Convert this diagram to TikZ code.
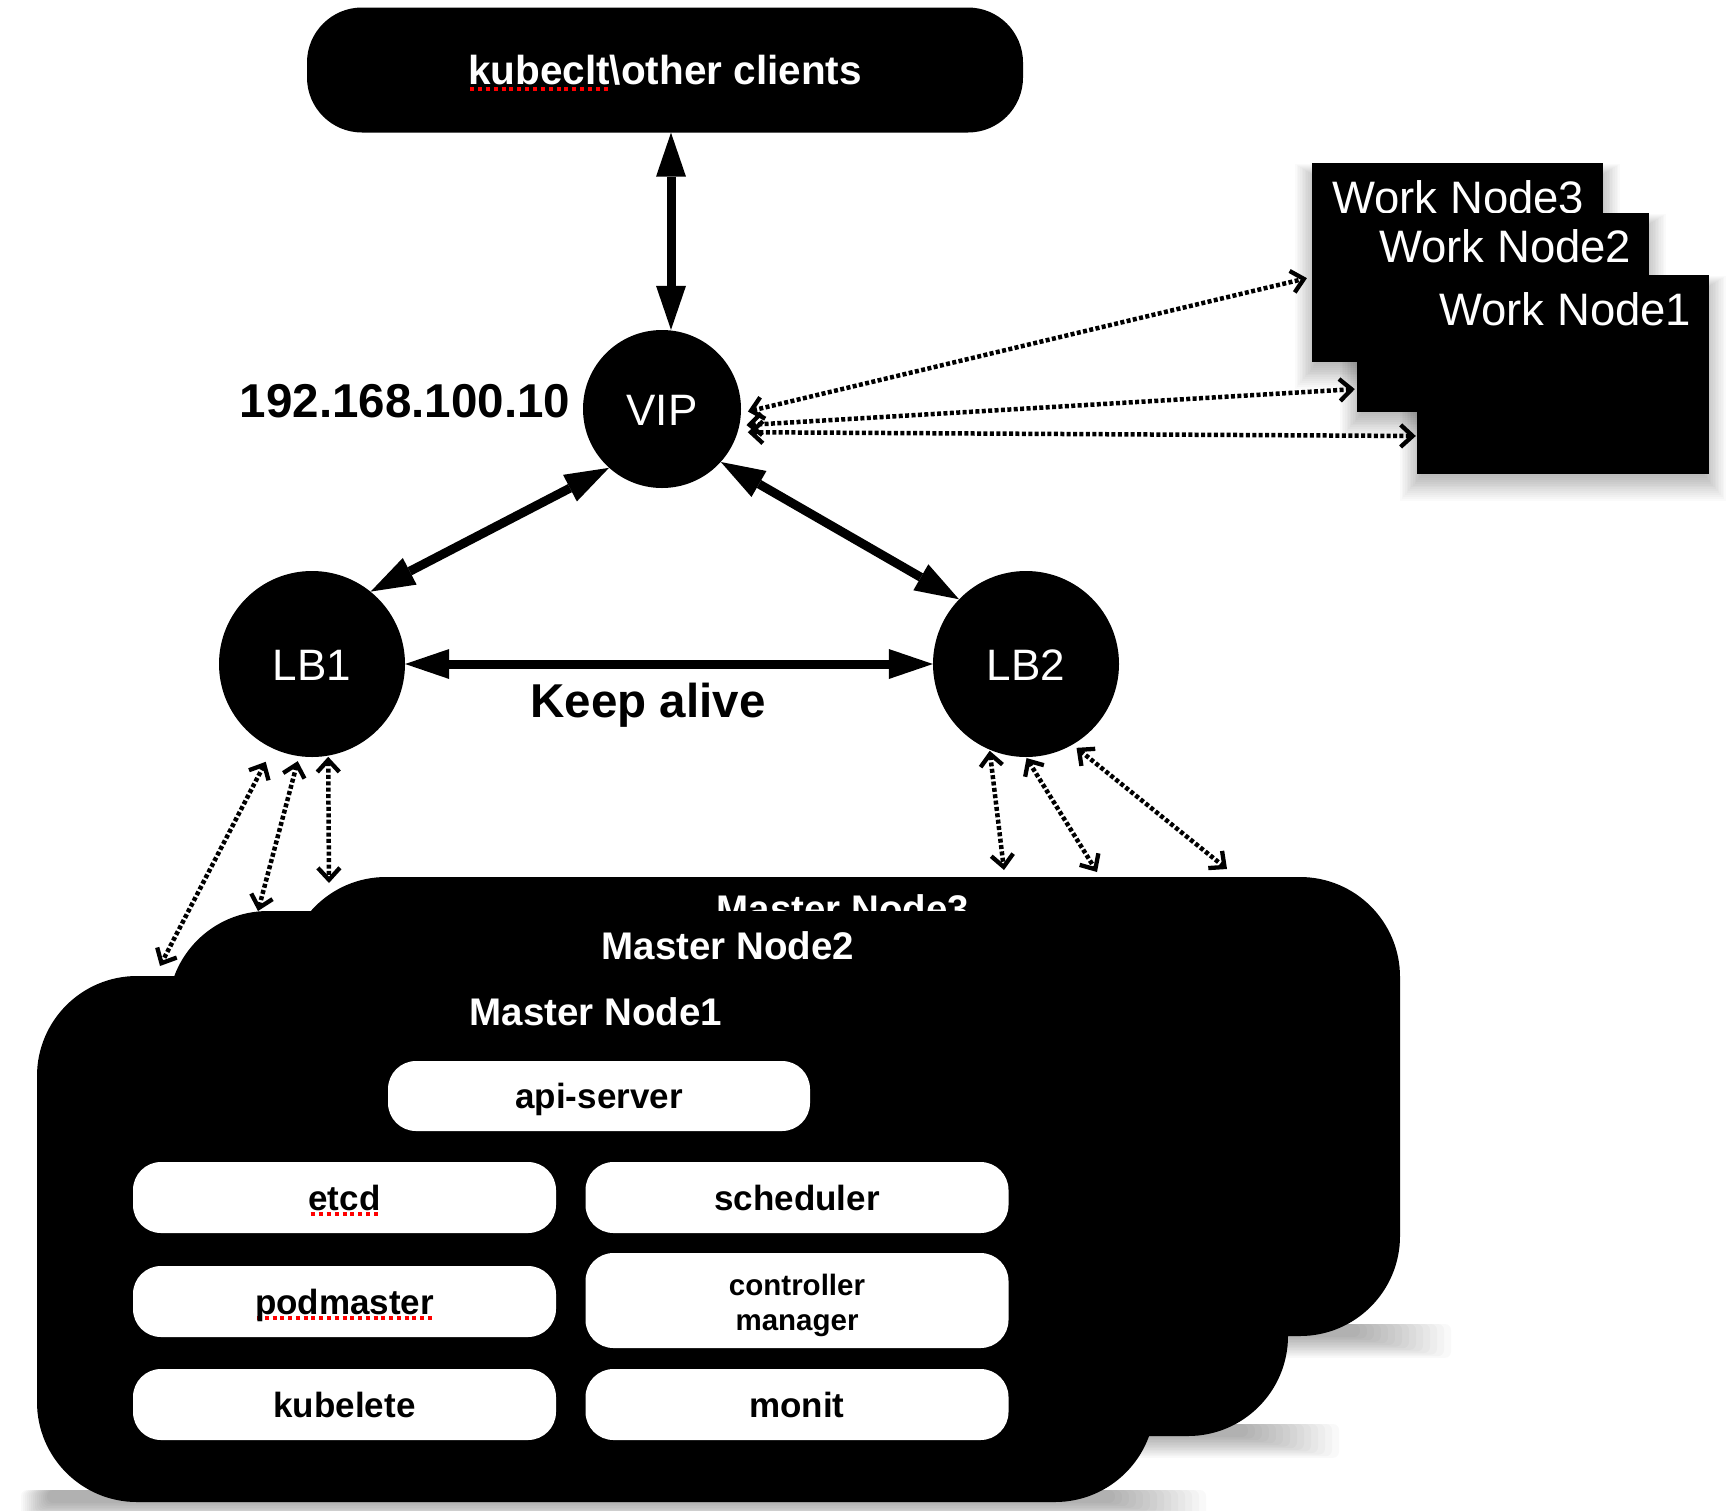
\documentclass[tikz,border=0pt]{standalone}
\usepackage{fontspec}
\setmainfont{Liberation Sans}
\usetikzlibrary{arrows.meta}
\newcommand\fsz[1]{\fontsize{#1pt}{#1pt}\selectfont}
\newbox\ulbox
\newcommand\redul[1]{\setbox\ulbox=\hbox{#1}\rlap{\raisebox{-6pt}{\color{red}\hbox to \wd\ulbox{\xleaders\hbox to 7.5pt{\hss\rule{4pt}{3.8pt}\hss}\hfill}}}\box\ulbox}
% all-round soft shadow (work nodes)
\newcommand\softshadow[4]{%
  \foreach \k in {0,...,13}{%
    \fill[black,opacity=0.018]
      ({#1+4-1.6*\k},{#2+14-1*\k}) rectangle ({#3-4+1.6*\k},{#4+2+1.9*\k});
  }%
}
% bottom soft shadow (master nodes)
\newcommand\bottomshadow[4]{%
  \foreach \k in {0,...,13}{%
    \fill[black,opacity=0.022,rounded corners=6pt]
      ({#1+10-2*\k},{#4-12}) rectangle ({#3-40+7*\k},{#4+1+1.6*\k});
  }%
}
\begin{document}
\begin{tikzpicture}[x=1pt,y=-1pt,
  blk/.style={fill=black,draw=none,inner sep=0pt},
  big/.style={line width=9pt,{Triangle[length=44pt,width=30pt,line width=0pt]}-{Triangle[length=44pt,width=30pt,line width=0pt]}},
  dotar/.style={line width=4.5pt,dash pattern=on 4pt off 2.4pt,{Straight Barb[length=12pt,width=22pt,line width=4.3pt]}-{Straight Barb[length=12pt,width=22pt,line width=4.3pt]}},
  circ/.style={circle,fill=black,inner sep=0pt,text=white,font=\fsz{44},text height=32pt,text depth=0pt},
  wbox/.style={fill=white,rounded corners=28pt,minimum width=423pt,minimum height=71pt,inner sep=0pt,font=\fsz{35}\bfseries,text height=25pt,text depth=0pt},
  mnode/.style={fill=black,rounded corners=100pt,inner sep=0pt},
  mlabel/.style={anchor=base,text=white,font=\fsz{38.5}\bfseries,inner sep=0pt},
  wnode/.style={fill=black,inner sep=0pt,minimum width=292pt,minimum height=199pt},
  wlabel/.style={anchor=base west,text=white,font=\fsz{45.5},inner sep=0pt},
  biglabel/.style={anchor=base,font=\fsz{47.5}\bfseries,inner sep=0pt}]
\fill[white] (0,0) rectangle (1736,1510);
\useasboundingbox (0,0) rectangle (1736,1510);

% clients
\node[blk,rounded corners=55pt,minimum width=716pt,minimum height=125pt,text=white,font=\fsz{40.5}\bfseries,text height=29pt,text depth=0pt] (clients) at (665,70) {\redul{kubeclt}\textbackslash other clients};

% VIP and LBs
\node[circ,minimum size=158pt] (vip) at (662,409) {VIP};
\node[biglabel] (ip) at (405,417) {192.168.100.10};
\node[circ,minimum size=186pt] (lb1) at (312,664) {LB1};
\node[circ,minimum size=186pt] (lb2) at (1026,664) {LB2};
\node[biglabel] (ka) at (648,717) {Keep alive};

% work nodes
\softshadow{1312}{163}{1603}{362}
\node[wnode,minimum width=291pt] (wn3) at (1457.5,262.5) {};
\node[wlabel] (wn3t) at (1332,213) {Work Node3};
\softshadow{1357}{213}{1649}{412}
\node[wnode] (wn2) at (1503,312.5) {};
\node[wlabel] (wn2t) at (1379,262) {Work Node2};
\softshadow{1417}{275}{1709}{474}
\node[wnode] (wn1) at (1563,374.5) {};
\node[wlabel] (wn1t) at (1439,325) {Work Node1};

% master nodes
\bottomshadow{286}{877}{1400}{1336}
\node[mnode,minimum width=1114pt,minimum height=459pt] (m3) at (843,1106.5) {};
\node[mlabel] (m3t) at (843,922) {Master Node3};
\bottomshadow{168}{911}{1288}{1436}
\node[mnode,minimum width=1120pt,minimum height=525pt] (m2) at (728,1173.5) {};
\node[mlabel] (m2t) at (728,959) {Master Node2};
\bottomshadow{37}{976}{1155}{1502}
\node[mnode,minimum width=1118pt,minimum height=526pt] (m1) at (596,1239) {};
\node[mlabel] (m1t) at (596,1025) {Master Node1};

% components
\node[wbox,minimum width=422pt,minimum height=70pt] (api) at (599,1096) {api-server};
\node[wbox] (etcd) at (344.5,1197.5) {\redul{etcd}};
\node[wbox] (sched) at (797,1197.5) {scheduler};
\node[wbox] (podm) at (344.5,1301.5) {\redul{podmaster}};
\node[wbox,minimum height=95pt] (ctrl) at (797,1300.5) {};
\node[font=\fontsize{29.5pt}{35pt}\selectfont\bfseries,align=center,inner sep=0pt] (ctrlt) at (797,1305) {controller\\manager};
\node[wbox] (kube) at (344.5,1404.5) {kubelete};
\node[wbox] (monit) at (797,1404.5) {monit};

% thick arrows
\draw[big] ([xshift=6pt]clients.south) -- ([xshift=9pt]vip.north);
\draw[big] (vip.228) -- (lb1.51);
\draw[big] (vip.318) -- (lb2.136);
\draw[big] (lb1.east) -- (lb2.west);

% dotted arrows to work nodes
\draw[dotar,shorten <=7pt,shorten >=5pt] (vip.357) -- ([yshift=-14.5pt]wn3.west);
\draw[dotar,shorten <=7pt,shorten >=2pt] (vip.348) -- ([yshift=-76.5pt]wn2.west);
\draw[dotar,shorten <=10pt,shorten >=1pt] (vip.343) -- ([yshift=-61.5pt]wn1.west);

% dotted arrows to masters
\coordinate (ea) at (160,966);
\coordinate (eb) at (258,911);
\coordinate (ec) at (329,883);
\coordinate (ed) at (1004,870);
\coordinate (ee) at (1097,872);
\coordinate (ef) at (1227,869);
\draw[dotar,shorten <=15pt] (lb1.245) -- (ea);
\draw[dotar,shorten <=5pt] (lb1.262) -- (eb);
\draw[dotar,shorten <=1pt] (lb1.280) -- (ec);
\draw[dotar,shorten <=1pt] (lb2.247) -- (ed);
\draw[dotar,shorten <=1pt] (lb2.270) -- (ee);
\draw[dotar,shorten <=5pt] (lb2.300) -- (ef);
\end{tikzpicture}
\end{document}
